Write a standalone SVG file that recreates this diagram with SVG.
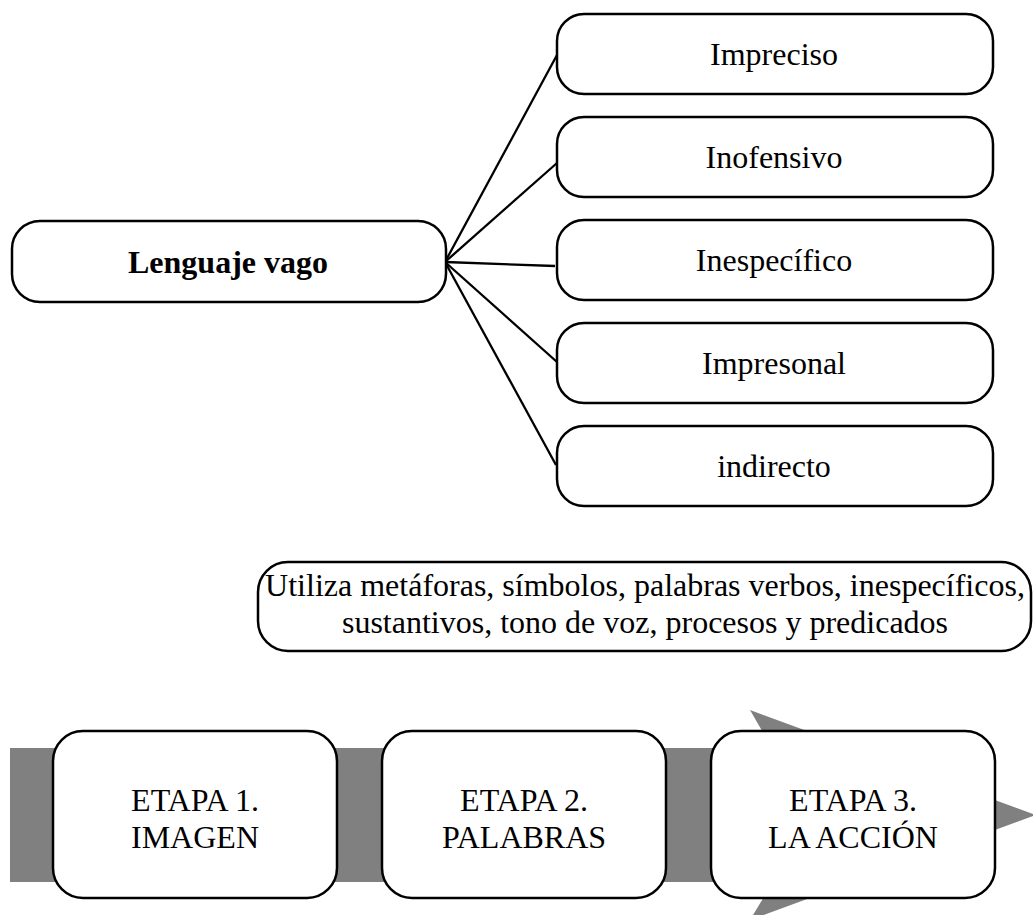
<svg xmlns="http://www.w3.org/2000/svg" width="1033" height="915" viewBox="0 0 1033 915">
<style>
.box{fill:#fff;stroke:#000;stroke-width:2.5}
.t{font-family:"Liberation Serif","Times New Roman",serif;font-size:32px;fill:#000;text-anchor:middle}
.b{font-weight:bold}
.conn line{stroke:#000;stroke-width:2.3}
</style>
<rect width="1033" height="915" fill="#fff"/>
<g id="process-arrow">
<polygon points="10,748 772,748 750,710 1036,815 750,920 773,882 10,882" fill="#808080"/>
</g>
<g id="connectors" class="conn">
<line x1="445" y1="262" x2="557" y2="55"/>
<line x1="445" y1="262" x2="557" y2="163"/>
<line x1="445" y1="262" x2="555" y2="266"/>
<line x1="445" y1="262" x2="557" y2="362"/>
<line x1="445" y1="262" x2="556" y2="465"/>
</g>
<g id="lenguaje-vago">
<rect class="box" x="12" y="221" width="434" height="81" rx="28"/>
<text class="t b" x="228" y="273">Lenguaje vago</text>
</g>
<g id="impreciso">
<rect class="box" x="557" y="14" width="436" height="80" rx="27"/>
<text class="t" x="774" y="65">Impreciso</text>
</g>
<g id="inofensivo">
<rect class="box" x="557" y="117" width="436" height="80" rx="27"/>
<text class="t" x="774" y="168">Inofensivo</text>
</g>
<g id="inespecifico">
<rect class="box" x="557" y="220" width="436" height="80" rx="27"/>
<text class="t" x="774" y="271">Inespecífico</text>
</g>
<g id="impresonal">
<rect class="box" x="557" y="323" width="436" height="80" rx="27"/>
<text class="t" x="774" y="374">Impresonal</text>
</g>
<g id="indirecto">
<rect class="box" x="557" y="426" width="436" height="80" rx="27"/>
<text class="t" x="774" y="477">indirecto</text>
</g>
<g id="descripcion">
<rect class="box" x="258" y="562" width="773" height="89" rx="30"/>
<text class="t" x="645" y="596">Utiliza metáforas, símbolos, palabras verbos, inespecíficos,</text>
<text class="t" x="645" y="633">sustantivos, tono de voz, procesos y predicados</text>
</g>
<g id="etapa-1">
<rect class="box" x="53" y="731" width="284" height="167" rx="30"/>
<text class="t" x="195" y="811">ETAPA 1.</text>
<text class="t" x="195" y="848">IMAGEN</text>
</g>
<g id="etapa-2">
<rect class="box" x="382" y="731" width="284" height="167" rx="30"/>
<text class="t" x="524" y="811">ETAPA 2.</text>
<text class="t" x="524" y="848">PALABRAS</text>
</g>
<g id="etapa-3">
<rect class="box" x="711" y="731" width="284" height="167" rx="30"/>
<text class="t" x="853" y="811">ETAPA 3.</text>
<text class="t" x="853" y="848">LA ACCIÓN</text>
</g>
</svg>
